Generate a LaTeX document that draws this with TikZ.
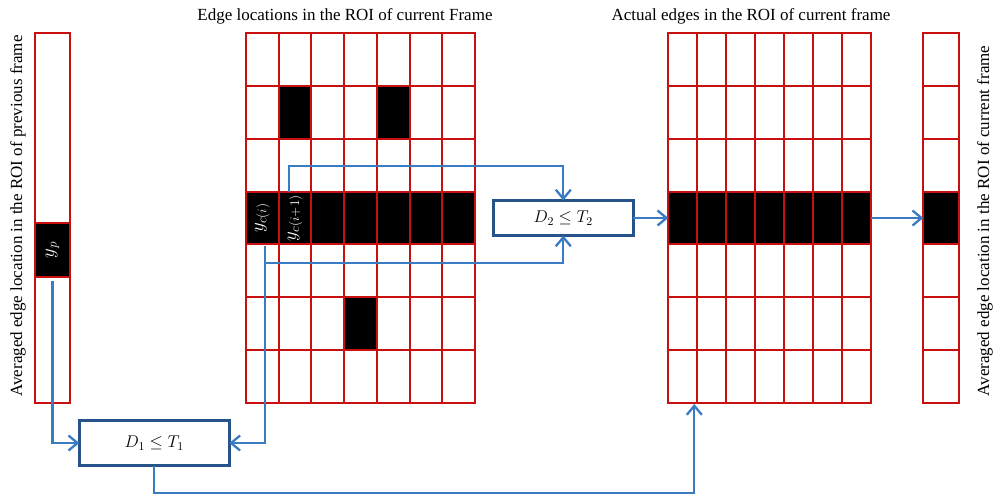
\RequirePackage{fix-cm}
\documentclass[tikz,border=0pt]{standalone}
\usepackage{fontspec}
\setmainfont{Liberation Serif}
\usetikzlibrary{arrows.meta,calc}
\definecolor{gridred}{RGB}{200,16,16}
\definecolor{arrblue}{RGB}{58,124,196}
\definecolor{boxblue}{RGB}{38,84,138}
\tikzset{
  cell/.style={draw=gridred,line width=2pt,fill=white,inner sep=0pt,outer sep=0pt,anchor=north west},
  blackcell/.style={cell,fill=black},
  arr/.style={draw=arrblue,line width=2.3pt,-{Straight Barb[length=9pt,width=15pt,line width=2.3pt]}},
  condbox/.style={draw=boxblue,line width=3.2pt,fill=white,inner sep=0pt,outer sep=0pt},
  title/.style={font=\fontsize{17}{19}\selectfont,inner sep=0pt},
  sidelabel/.style={font=\fontsize{17}{19}\selectfont,inner sep=0pt,rotate=90},
  celllabel/.style={text=white,rotate=90,font=\fontsize{19}{21}\selectfont,inner sep=0pt}
}
\begin{document}
\begin{tikzpicture}[x=1pt,y=-1pt]
\useasboundingbox[fill=white] (0,0) rectangle (996,496);
% titles
\node[title] (t2) at (345,16) {Edge locations in the ROI of current Frame};
\node[title] (t3) at (751,16) {Actual edges in the ROI of current frame};
\node[sidelabel] (sl) at (18,216) {Averaged edge location in the ROI of previous frame};
\node[sidelabel] (sr) at (985,221) {Averaged edge location in the ROI of current frame};
% left column (previous frame)
\node[cell,minimum width=35pt,minimum height=370pt] (prev) at (35,33) {};
\node[blackcell,minimum width=35pt,minimum height=54pt] (yp) at (35,223) {};
\node[celllabel] at (yp.center) {$y_p$};
% grid 2: edge locations
\foreach \r in {0,...,6}{
  \foreach \c in {0,...,6}{
    \node[cell,minimum width=32.7pt,minimum height=52.86pt] (c\r\c) at ({246+32.7*\c},{33+52.86*\r}) {};
  }
}
\foreach \r/\c in {1/1,1/4,5/3,3/0,3/1,3/2,3/3,3/4,3/5,3/6}{
  \node[blackcell,minimum width=32.7pt,minimum height=52.86pt] at ({246+32.7*\c},{33+52.86*\r}) {};
}
\node[celllabel] at (c30.center) {$y_{c(i)}$};
\node[celllabel] at (c31.center) {$y_{c(i+1)}$};
% grid 3: actual edges
\foreach \r in {0,...,6}{
  \foreach \c in {0,...,6}{
    \ifnum\r=3
      \node[blackcell,minimum width=28.9pt,minimum height=52.86pt] (e\r\c) at ({668.3+28.9*\c},{33+52.86*\r}) {};
    \else
      \node[cell,minimum width=28.9pt,minimum height=52.86pt] (e\r\c) at ({668.3+28.9*\c},{33+52.86*\r}) {};
    \fi
  }
}
% right column
\foreach \r in {0,...,6}{
  \ifnum\r=3
    \node[blackcell,minimum width=35.7pt,minimum height=52.86pt] (r\r) at (923.3,{33+52.86*\r}) {};
  \else
    \node[cell,minimum width=35.7pt,minimum height=52.86pt] (r\r) at (923.3,{33+52.86*\r}) {};
  \fi
}
% condition boxes
\node[condbox,minimum width=150pt,minimum height=45pt,font=\fontsize{17}{19}\selectfont] (d1) at (154.3,443) {$D_1 \leq T_1$};
\node[condbox,minimum width=140pt,minimum height=35pt,font=\fontsize{17}{19}\selectfont] (d2) at (563.3,218) {$D_2 \leq T_2$};
% coordinates
\coordinate (a1) at (52.5,281);
\coordinate (a2) at (265,246);
\coordinate (br) at (265,262.7);
\coordinate (a3) at (289.3,192);
\coordinate (g3in) at (694.3,404);
% connectors
\draw[arr] (a1) |- (d1.west);
\draw[arr] (a2) |- (d1.east);
\draw[arr] (br) -| (d2.south);
\draw[arr] (a3) -- ++(0,-26) -| (d2.north);
\draw[arr] (d2.east) -- (d2.east -| e30.west);
\draw[arr] (e36.east) -- (e36.east -| r3.west);
\draw[arr] (d1.south) -- ++(0,27.5) -| (g3in);
\end{tikzpicture}
\end{document}
